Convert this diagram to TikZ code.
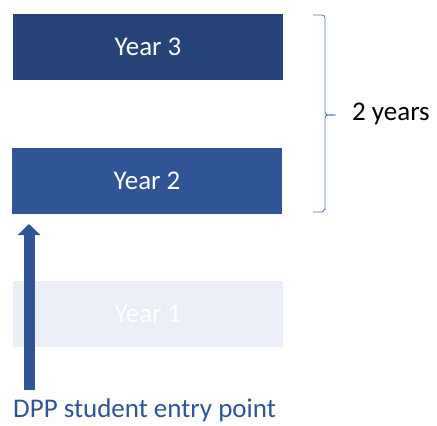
\documentclass[tikz,border=0pt]{standalone}
\usepackage{fontspec}
\setmainfont{Carlito}
\usetikzlibrary{arrows.meta}
\definecolor{yrthree}{HTML}{264478}
\definecolor{yrtwo}{HTML}{2F5597}
\definecolor{yrone}{HTML}{EDEFF8}
\definecolor{bracecol}{HTML}{4472C4}
\begin{document}
\begin{tikzpicture}[x=1pt,y=-1pt,
  yearbox/.style={minimum width=270pt,minimum height=66pt,inner sep=0pt,text=white,font=\fontsize{27}{32}\selectfont},
  lbl/.style={inner sep=0pt,font=\fontsize{27}{32}\selectfont}]
\useasboundingbox (0,0) rectangle (437,426);
\fill[white] (0,0) rectangle (437,426);
\node[yearbox,fill=yrthree] (y3) at (148,47) {Year 3};
\node[yearbox,fill=yrtwo] (y2) at (147,180.5) {Year 2};
\node[yearbox,fill=yrone] (y1) at (148,314) {Year 1};
\node[lbl,text=yrtwo,anchor=west] (dpp) at (13,410) {DPP student entry point};
\coordinate (abot) at (29,390);
\coordinate (atop) at (29,224);
\draw[yrtwo,line width=11pt,-{Triangle[width=22pt,length=11pt]}] (abot) -- (atop);
\coordinate (btop) at (313,15);
\coordinate (bbot) at (313,212);
\coordinate (btip) at (336,115);
\draw[bracecol,line width=0.8pt] (btop) -- (322,15) to[out=0,in=90] (325,18) -- (325,112) to[out=-90,in=180] (btip)
  (btip) to[out=180,in=90] (325,118) -- (325,209) to[out=90,in=0] (322,212) -- (bbot);
\node[lbl,anchor=west] (yrs) at (352,114) {2 years};
\end{tikzpicture}
\end{document}
